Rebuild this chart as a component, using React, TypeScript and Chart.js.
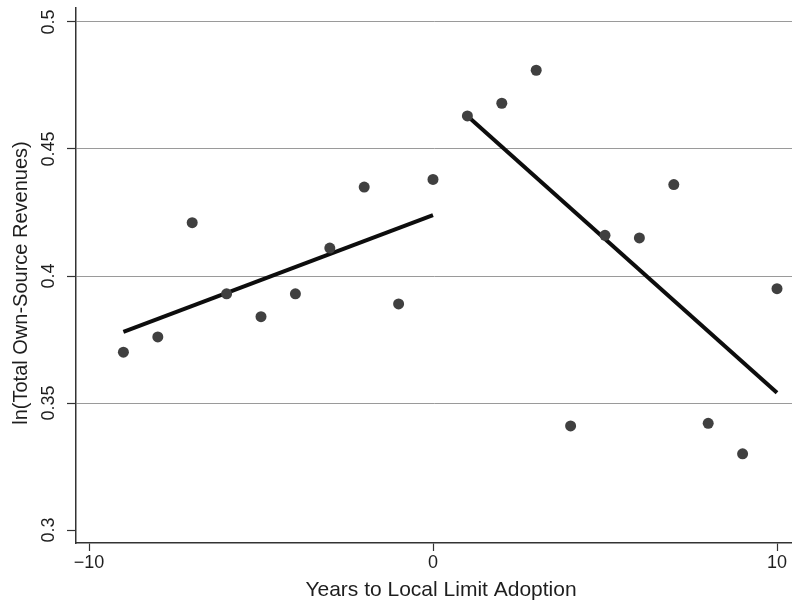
import React, { useEffect, useRef } from "react";
import { Chart, registerables } from "chart.js";

Chart.register(...registerables);

const years = [-9, -8, -7, -6, -5, -4, -3, -2, -1, 0, 1, 2, 3, 4, 5, 6, 7, 8, 9, 10];
const revenues = [0.370, 0.376, 0.421, 0.393, 0.384, 0.393, 0.411, 0.435, 0.389, 0.438, 0.463, 0.468, 0.481, 0.341, 0.416, 0.415, 0.436, 0.342, 0.330, 0.395];
const preFitX = [-9, 0];
const preFitY = [0.378, 0.424];
const postFitX = [1, 10];
const postFitY = [0.463, 0.354];
const xTicks = [-10, 0, 10];
const yTicks = [0.3, 0.35, 0.4, 0.45, 0.5];
const xTitle = "Years to Local Limit Adoption";
const yTitle = "ln(Total Own-Source Revenues)";

const FONT = "'Liberation Sans', Arial, Helvetica, sans-serif";
const TEXT = "#1e1e1e";

const textPlugin = {
  id: "customText",
  afterDraw(chart: any) {
    const ctx = chart.ctx;
    const y = chart.scales.y;
    ctx.save();
    ctx.fillStyle = TEXT;
    ctx.textAlign = "center";
    ctx.textBaseline = "middle";
    ctx.font = `18px ${FONT}`;
    yTicks.forEach((v) => {
      const py = y.getPixelForValue(v);
      ctx.save();
      ctx.translate(49, py);
      ctx.rotate(-Math.PI / 2);
      ctx.fillText(String(v), 0, 0);
      ctx.restore();
    });
    ctx.font = `20px ${FONT}`;
    ctx.save();
    ctx.translate(21, 283);
    ctx.rotate(-Math.PI / 2);
    ctx.fillText(yTitle, 0, 0);
    ctx.restore();
    ctx.font = `21px ${FONT}`;
    ctx.fillText(xTitle, 441, 590);
    ctx.restore();
  },
};

export default function App() {
  const ref = useRef<HTMLCanvasElement>(null);
  useEffect(() => {
    if (!ref.current) return;
    const chart = new Chart(ref.current, {
      type: "scatter",
      data: {
        datasets: [
          {
            data: years.map((x, i) => ({ x, y: revenues[i] })),
            backgroundColor: "#404040",
            borderColor: "#404040",
            pointRadius: 5.5,
            pointBorderWidth: 0,
            showLine: false,
          },
          {
            data: preFitX.map((x, i) => ({ x, y: preFitY[i] })),
            showLine: true,
            borderColor: "#0d0d0d",
            borderWidth: 4,
            pointRadius: 0,
          },
          {
            data: postFitX.map((x, i) => ({ x, y: postFitY[i] })),
            showLine: true,
            borderColor: "#0d0d0d",
            borderWidth: 4,
            pointRadius: 0,
          },
        ],
      },
      options: {
        responsive: false,
        animation: false,
        layout: { autoPadding: false, padding: { top: 8, left: 0, right: 0, bottom: 0 } },
        plugins: { legend: { display: false }, tooltip: { enabled: false } },
        scales: {
          x: {
            type: "linear",
            min: -10.378,
            max: 10.436,
            afterBuildTicks: (s: any) => {
              s.ticks = xTicks.map((v) => ({ value: v }));
            },
            afterFit: (s: any) => {
              s.height = 62;
              s.paddingLeft = 0;
              s.paddingRight = 0;
            },
            ticks: {
              color: TEXT,
              font: { family: FONT, size: 18 },
              padding: 1,
              maxRotation: 0,
              callback: (v: any) => (Number(v) < 0 ? "\u2212" + Math.abs(Number(v)) : String(v)),
            },
            grid: {
              drawOnChartArea: false,
              drawTicks: true,
              tickLength: 8,
              tickColor: "#333",
              tickWidth: 1.2,
            },
            border: { display: true, color: "#333", width: 1.5 },
          },
          y: {
            type: "linear",
            min: 0.2949,
            max: 0.5055,
            afterBuildTicks: (s: any) => {
              s.ticks = yTicks.map((v) => ({ value: v }));
            },
            afterFit: (s: any) => {
              s.width = 76;
              s.paddingTop = 0;
              s.paddingBottom = 0;
            },
            ticks: { display: false },
            grid: {
              drawOnChartArea: true,
              drawTicks: true,
              tickLength: 9,
              color: (c: any) => (c.tick && Math.abs(c.tick.value - 0.3) < 1e-6 ? "rgba(0,0,0,0)" : "#9a9a9a"),
              lineWidth: 1,
              tickColor: "#333",
              tickWidth: 1.2,
            },
            border: { display: true, color: "#333", width: 1.5 },
          },
        },
      },
      plugins: [textPlugin],
    });
    return () => chart.destroy();
  }, []);
  return (
    <div style={{ position: "fixed", left: 0, top: 0, width: 792, height: 605, background: "#ffffff" }}>
      <canvas ref={ref} width={792} height={605} style={{ display: "block" }} />
    </div>
  );
}
